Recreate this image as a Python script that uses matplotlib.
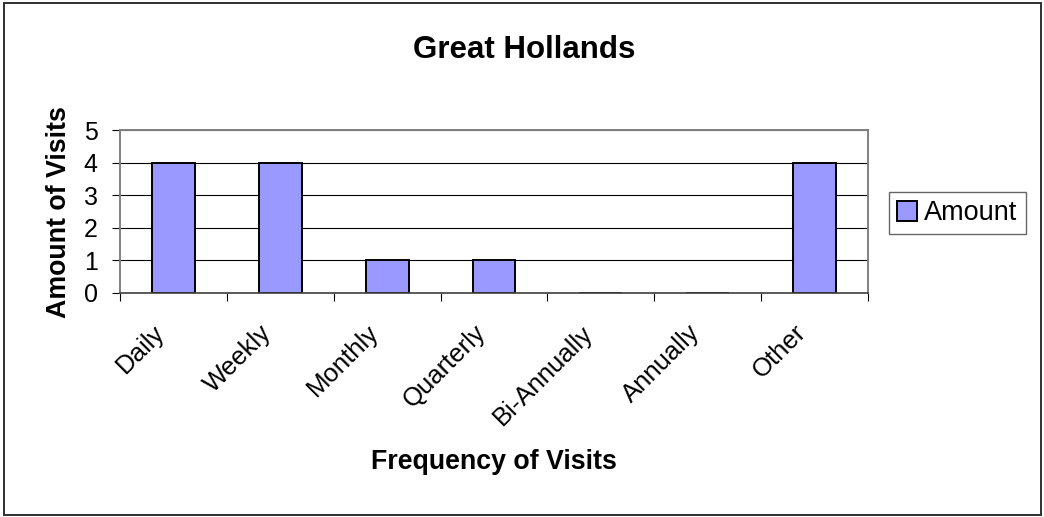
import matplotlib.pyplot as plt
from matplotlib.patches import Rectangle
from matplotlib.transforms import ScaledTranslation
import numpy as np

plt.rcParams['font.family'] = ['Liberation Sans', 'DejaVu Sans']

# Data
categories = ['Daily', 'Weekly', 'Monthly', 'Quarterly', 'Bi-Annually', 'Annually', 'Other']
amounts = [4, 4, 1, 1, 0, 0, 4]
y_ticks = [0, 1, 2, 3, 4, 5]

W, H = 1044, 517
fig = plt.figure(figsize=(W / 100, H / 100), dpi=100)

# plot area in pixels: left 120, right 868, top 130, bottom 293
ax = fig.add_axes([120 / W, 1 - 293 / H, (868 - 120) / W, (293 - 130) / H])

x = np.arange(len(categories))
ax.bar(x, amounts, width=0.4, color='#9999FF', edgecolor='black', linewidth=1.4,
       label='Amount', zorder=3)

ax.set_xlim(-0.5, len(categories) - 0.5)
ax.set_ylim(0, 5)
ax.set_yticks(y_ticks)
ax.yaxis.grid(True, color='black', linewidth=0.8, zorder=0)
ax.set_axisbelow(True)

# ticks on the category boundaries, labels at centres
ax.set_xticks(np.arange(len(categories) + 1) - 0.5)
ax.set_xticklabels([])
ax.set_xticks(x, minor=True)
ax.set_xticklabels(categories, minor=True, rotation=45, ha='right', va='center',
                   rotation_mode='anchor', fontsize=18.5)
ax.tick_params(axis='x', which='minor', length=0, pad=26)
ax.tick_params(axis='x', which='major', length=6, width=0.8, direction='out')
ax.tick_params(axis='y', length=6, width=0.8, direction='out', labelsize=18, pad=10)
shift = ScaledTranslation(-12 / 100, 0, fig.dpi_scale_trans)
for lbl in ax.get_xticklabels(minor=True):
    lbl.set_transform(lbl.get_transform() + shift)

for s in ['top', 'right', 'left']:
    ax.spines[s].set_color('#808080')
    ax.spines[s].set_linewidth(1.4)
ax.spines['bottom'].set_color('#404040')
ax.spines['bottom'].set_linewidth(1.2)
ax.spines['bottom'].set_zorder(4)

fig.text(524 / W, 1 - 50 / H, 'Great Hollands', fontsize=22.5, fontweight='bold',
         ha='center', va='center')
fig.text(494 / W, 1 - 462 / H, 'Frequency of Visits', fontsize=19.3, fontweight='bold',
         ha='center', va='center')
fig.text(59 / W, 1 - 212 / H, 'Amount of Visits', fontsize=19.3, fontweight='bold',
         ha='center', va='center', rotation=90)

leg = fig.legend(loc='upper left', bbox_to_anchor=(889 / W, 1 - 192 / H),
                 fontsize=19.5, frameon=True, fancybox=False, borderpad=0.3,
                 handlelength=0.75, handleheight=0.75, handletextpad=0.25,
                 borderaxespad=0)
leg.get_frame().set_edgecolor('#404040')
leg.get_frame().set_linewidth(1.0)

# outer chart border
fig.patches.append(Rectangle((4 / W, 2 / H), (1041 - 4) / W, (514 - 2) / H,
                             transform=fig.transFigure, fill=False,
                             edgecolor='#303030', linewidth=1.4))

fig.savefig('out.png', dpi=100)
